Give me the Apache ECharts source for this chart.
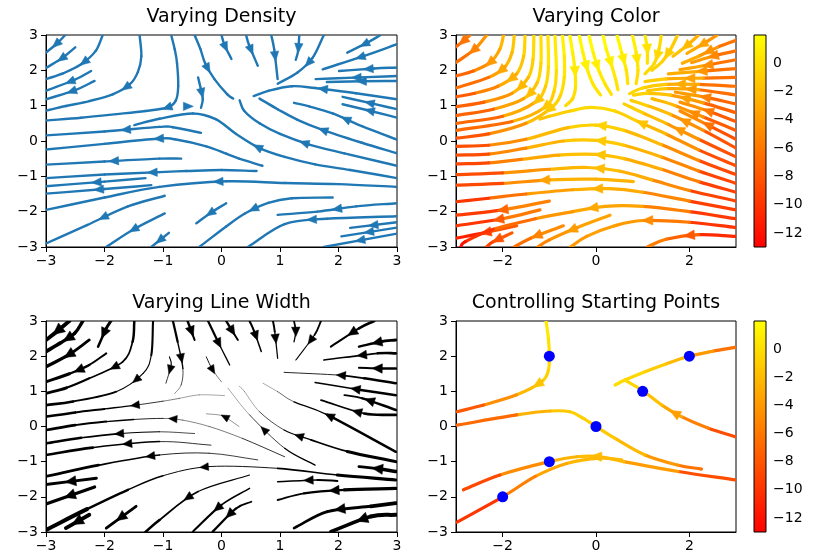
<!DOCTYPE html>
<html>
<head>
<meta charset="utf-8">
<script src="https://cdn.jsdelivr.net/npm/echarts@6/dist/echarts.min.js"></script>
<style>
  html, body { margin: 0; padding: 0; background: #fff; }
  #chart { width: 815px; height: 559px; }
</style>
</head>
<body>
<div id="chart"></div>
<script>
// Streamlines of the field, each listed upstream -> downstream.
// Panel "Varying Density": [x, y]
const densityLines = [
  [[-2.67,3.0],[-2.8,2.78],[-3.0,2.5]],
  [[-2.5,2.65],[-2.72,2.35],[-3.0,2.07]],
  [[-2.03,3.0],[-2.15,2.55],[-2.4,2.17],[-2.7,1.92],[-3.0,1.75]],
  [[-2.23,1.98],[-2.5,1.74],[-3.0,1.42]],
  [[-2.17,1.7],[-2.5,1.44],[-3.0,1.18]],
  [[-1.4,3.0],[-1.37,2.4],[-1.43,1.95],[-1.57,1.6],[-1.86,1.32],[-2.26,1.13],[-2.66,0.99],[-3.0,0.86]],
  [[-0.86,3.0],[-0.8,2.6],[-0.76,2.2],[-0.74,1.55],[-0.78,1.15],[-0.92,0.95],[-1.3,0.85],[-1.8,0.76],[-2.4,0.66],[-3.0,0.58]],
  [[3.0,-1.05],[2.2,-0.82],[1.6,-0.66],[1.08,-0.45],[0.65,-0.2],[0.25,0.2],[-0.1,0.62],[-0.49,0.78],[-1.06,0.63],[-1.49,0.45]],
  [[-0.35,0.23],[-0.83,0.39],[-1.06,0.4],[-2.0,0.27],[-3.0,0.16]],
  [[0.7,-0.7],[0.3,-0.5],[0.08,-0.36],[-0.26,-0.15],[-0.8,0.05],[-1.06,0.07],[-2.0,-0.08],[-3.0,-0.24]],
  [[-0.69,-0.5],[-1.06,-0.5],[-2.0,-0.58],[-3.0,-0.67]],
  [[0.6,-0.85],[0.0,-0.82],[-0.6,-0.85],[-1.06,-0.88],[-2.0,-0.95],[-3.0,-1.05]],
  [[-1.3,-1.05],[-2.0,-1.15],[-3.0,-1.28]],
  [[-1.2,-1.25],[-2.0,-1.36],[-3.0,-1.49]],
  [[3.0,-1.3],[2.0,-1.22],[1.08,-1.19],[0.08,-1.14],[-1.06,-1.3],[-2.0,-1.6],[-3.0,-1.95]],
  [[-0.97,-1.55],[-1.6,-1.85],[-2.3,-2.38],[-3.0,-2.9]],
  [[-0.97,-2.05],[-1.5,-2.5],[-1.97,-3.0]],
  [[-0.9,-2.6],[-1.2,-3.0]],
  [[-0.6,0.98],[-0.55,0.98]],
  [[-0.46,3.0],[-0.36,2.6],[-0.28,2.2],[-0.12,1.75],[0.1,1.32],[0.2,1.2]],
  [[0.0,3.0],[0.05,2.72],[0.17,2.32]],
  [[0.42,3.0],[0.47,2.72],[0.62,2.13]],
  [[0.85,3.0],[0.9,2.6],[0.96,1.75]],
  [[-0.4,1.8],[-0.35,1.45],[-0.32,1.18],[-0.35,0.94]],
  [[3.0,-0.7],[2.1,-0.35],[1.5,-0.1],[1.0,0.2],[0.65,0.5],[0.39,0.85],[0.31,1.15]],
  [[3.0,-0.35],[2.4,-0.05],[1.75,0.3],[1.3,0.6],[0.96,0.9],[0.65,1.2]],
  [[3.0,0.04],[2.4,0.42],[1.9,0.78],[1.5,0.98],[1.24,1.08]],
  [[3.0,0.66],[2.55,0.85],[2.07,1.04]],
  [[3.0,0.9],[2.55,1.07],[2.07,1.25]],
  [[3.0,1.18],[2.3,1.35],[1.6,1.5],[1.2,1.55],[0.8,1.42],[0.55,1.27]],
  [[3.0,1.7],[2.4,1.69],[1.8,1.67]],
  [[3.0,1.84],[2.38,1.8],[1.61,1.75]],
  [[3.0,2.08],[2.61,2.05],[2.01,1.98]],
  [[3.0,2.74],[2.44,2.41],[1.73,2.03]],
  [[2.72,3.0],[2.5,2.79],[2.15,2.5]],
  [[1.75,3.0],[1.56,2.36],[1.3,1.94],[0.96,1.62]],
  [[1.33,3.0],[1.31,2.55],[1.27,2.3]],
  [[1.9,-1.6],[1.2,-1.62],[0.8,-1.75],[0.4,-2.05],[0.08,-2.42],[-0.38,-3.0]],
  [[0.08,-1.76],[-0.2,-2.05],[-0.43,-2.33]],
  [[3.0,-1.76],[2.3,-1.85],[1.64,-2.0],[0.96,-2.09]],
  [[3.0,-2.13],[1.8,-2.2],[1.08,-2.35],[0.45,-3.0]],
  [[3.0,-2.3],[2.2,-2.46]],
  [[3.0,-2.45],[2.05,-2.7]],
  [[3.0,-2.62],[1.75,-3.0]]
];

// Panel "Varying Color": [x, y, u] where u is the colour value
const colorLines = [
  [[-2.7,3.0,-5.3],[-2.85,2.82,-6.3],[-3.0,2.67,-7.3]],
  [[-2.34,3.0,-3.5],[-2.6,2.6,-5.2],[-3.0,2.22,-7.8]],
  [[-1.98,3.0,-1.9],[-2.06,2.6,-2.6],[-2.27,2.22,-4],[-2.63,1.98,-5.9],[-3.0,1.84,-8.2]],
  [[-1.75,3.0,-1.1],[-1.8,2.5,-1.7],[-1.95,2.1,-2.7],[-2.3,1.8,-4.5],[-3.0,1.5,-8.5]],
  [[-1.52,3.0,-0.3],[-1.55,2.4,-1],[-1.7,1.9,-2],[-2.1,1.55,-3.9],[-2.6,1.35,-6.4],[-3.0,1.25,-8.8]],
  [[-1.33,3.0,0.2],[-1.35,2.3,-0.5],[-1.45,1.8,-1.3],[-1.8,1.35,-2.9],[-2.4,1.1,-5.7],[-3.0,0.97,-9]],
  [[-1.18,3.0,0.6],[-1.18,2.2,-0.2],[-1.26,1.65,-0.9],[-1.55,1.2,-2.2],[-2.2,0.9,-4.9],[-3.0,0.72,-9.3]],
  [[-1.03,3.0,0.9],[-1.02,2.1,0],[-1.08,1.55,-0.6],[-1.3,1.1,-1.6],[-2.0,0.7,-4.3],[-3.0,0.5,-9.5]],
  [[-0.88,3.0,1.2],[-0.85,2.0,0.3],[-0.9,1.4,-0.4],[-1.1,0.95,-1.3],[-1.8,0.55,-3.7],[-3.0,0.3,-9.7]],
  [[-0.72,3.0,1.5],[-0.68,2.4,0.9],[-0.68,1.8,0.3],[-0.76,1.3,-0.3],[-0.95,0.95,-0.9],[-1.5,0.5,-2.8],[-2.3,0.2,-6.1],[-3.0,0.08,-9.9]],
  [[-0.56,3.0,1.7],[-0.5,2.5,1.2],[-0.45,2.0,0.8],[-0.44,1.5,0.3],[-0.5,1.2,-0.1],[-0.65,1.0,-0.4]],
  [[-0.36,3.0,1.9],[-0.28,2.5,1.4],[-0.18,2.0,0.97],[-0.06,1.6,0.6],[0.1,1.3,0.3]],
  [[-0.15,3.0,2.0],[-0.06,2.5,1.5],[0.06,2.0,1.0],[0.2,1.6,0.56],[0.33,1.32,0.2]],
  [[0.15,3.0,2.0],[0.22,2.6,1.5],[0.32,2.2,1.1],[0.42,1.75,0.6],[0.47,1.45,0.2]],
  [[0.45,3.0,1.8],[0.55,2.5,1.2],[0.65,2.0,0.6],[0.68,1.62,0.15]],
  [[0.78,3.0,1.4],[0.86,2.5,0.8],[0.9,2.0,0.2],[0.86,1.62,-0.1]],
  [[1.05,3.0,0.9],[1.1,2.6,0.4],[1.1,2.2,-0.1]],
  [[1.4,3.0,0.0],[1.35,2.6,-0.2],[1.25,2.2,-0.4],[1.05,1.9,-0.2]],
  [[1.75,3.0,-1.1],[1.6,2.6,-0.9],[1.42,2.25,-0.8],[1.2,2.0,-0.4]],
  [[2.2,3.0,-2.8],[1.95,2.7,-2.1],[1.65,2.4,-1.3]],
  [[2.6,3.0,-4.8],[2.3,2.75,-3.5],[1.95,2.48,-2.3]],
  [[3.0,2.85,-7.2],[2.6,2.65,-5.1],[2.2,2.4,-3.4],[1.85,2.2,-2.2]],
  [[3.0,2.55,-7.5],[2.5,2.4,-4.9],[2.05,2.22,-3.0]],
  [[3.0,2.3,-7.7],[2.4,2.15,-4.6],[1.8,2.02,-2.2]],
  [[3.0,2.05,-8],[2.3,1.98,-4.3],[1.55,1.9,-1.5]],
  [[3.0,1.8,-8.2],[2.3,1.78,-4.5],[1.5,1.76,-1.5],[1.05,1.68,-0.4]],
  [[3.0,1.55,-8.5],[2.2,1.6,-4.2],[1.5,1.6,-1.7],[1.0,1.5,-0.5],[0.72,1.34,-0.2]],
  [[3.0,1.3,-8.7],[2.2,1.45,-4.4],[1.5,1.48,-1.8],[1.1,1.42,-0.8]],
  [[3.0,1.05,-9],[2.3,1.25,-5.0],[1.7,1.38,-2.5]],
  [[3.0,0.8,-9.2],[2.3,1.08,-5.2],[1.6,1.3,-2.3],[1.1,1.35,-0.9],[0.8,1.3,-0.3]],
  [[3.0,0.55,-9.5],[2.4,0.85,-5.9],[1.8,1.1,-3.1]],
  [[3.0,0.3,-9.7],[2.3,0.68,-5.6],[1.7,1.0,-2.9],[1.2,1.2,-1.2]],
  [[3.0,0.05,-10],[2.4,0.45,-6.3],[1.8,0.85,-3.4]],
  [[3.0,-0.2,-10.2],[2.3,0.3,-6],[1.6,0.75,-2.8],[1.1,1.0,-1.2],[0.75,1.15,-0.4]],
  [[3.0,-0.45,-10.5],[2.2,0.05,-5.8],[1.5,0.5,-2.7],[1.0,0.8,-1.2],[0.6,1.05,-0.3]],
  [[3.0,-0.7,-10.7],[2.2,-0.25,-6.1],[1.5,0.2,-3],[0.9,0.55,-1.3],[0.4,0.85,-0.3],[-0.1,0.95,-0.1],[-0.55,0.85,-0.5],[-1.0,0.7,-1.3],[-1.2,0.62,-1.8]],
  [[3.0,-0.95,-11],[2.2,-0.55,-6.4],[1.4,-0.1,-3.1],[0.6,0.3,-1.1],[0.0,0.45,-0.55],[-0.6,0.38,-1.0],[-1.5,0.05,-3.2],[-2.3,-0.12,-6.4],[-3.0,-0.15,-10.2]],
  [[3.0,-1.2,-11.2],[2.2,-0.85,-6.7],[1.4,-0.45,-3.4],[0.6,-0.12,-1.5],[0.0,0.02,-1],[-0.7,0.0,-1.5],[-1.5,-0.2,-3.4],[-2.3,-0.37,-6.6],[-3.0,-0.4,-10.4]],
  [[3.0,-1.45,-11.5],[2.2,-1.15,-7],[1.4,-0.8,-3.8],[0.6,-0.5,-1.9],[0.0,-0.38,-1.4],[-0.8,-0.4,-2],[-1.6,-0.52,-4.1],[-2.3,-0.62,-6.9],[-3.0,-0.65,-10.7]],
  [[3.0,-1.7,-11.7],[2.0,-1.4,-6.4],[1.2,-1.1,-3.5],[0.5,-0.85,-2.1],[-0.2,-0.75,-1.8],[-1.0,-0.8,-2.8],[-2.0,-0.9,-5.9],[-3.0,-0.95,-11]],
  [[0.8,-1.15,-2.8],[0.0,-1.08,-2.1],[-1.0,-1.1,-3.1],[-2.0,-1.2,-6.2],[-3.0,-1.25,-11.2]],
  [[3.0,-1.95,-12],[2.0,-1.7,-6.7],[1.0,-1.45,-3.5],[0.3,-1.35,-2.4],[-0.5,-1.38,-2.6],[-1.5,-1.5,-4.8],[-2.3,-1.62,-7.9],[-3.0,-1.72,-11.7]],
  [[-1.0,-1.7,-3.7],[-2.0,-1.95,-7],[-3.0,-2.1,-12]],
  [[-1.2,-1.95,-4.4],[-2.0,-2.2,-7.2],[-3.0,-2.4,-12.4]],
  [[-1.7,-2.4,-6.3],[-2.4,-2.6,-9.4],[-3.0,-2.75,-12.8]],
  [[3.0,-2.2,-12.2],[2.0,-2.0,-7],[1.0,-1.85,-3.9],[0.2,-1.85,-2.9],[-0.5,-2.0,-3.3],[-1.3,-2.2,-4.9],[-2.2,-2.5,-8.3],[-2.8,-2.85,-11.6],[-2.9,-3.0,-12.4]],
  [[3.0,-2.45,-12.5],[2.0,-2.3,-7.3],[1.0,-2.25,-4.3],[0.4,-2.4,-3.6],[-0.2,-2.7,-3.7],[-0.55,-3.0,-4.3]],
  [[3.0,-2.7,-12.7],[2.2,-2.65,-8.5],[1.5,-2.78,-6],[1.1,-3.0,-5.2]],
  [[0.3,-2.1,-3.2],[-0.4,-2.45,-3.6],[-1.0,-2.8,-4.8],[-1.25,-3.0,-5.6]],
  [[-0.7,-2.4,-3.9],[-1.4,-2.75,-5.7],[-1.75,-3.0,-7.1]],
  [[-1.8,-2.6,-6.8],[-2.2,-2.85,-8.7],[-2.35,-3.0,-9.5]]
];

// Panel "Varying Line Width": [x, y, width]
const widthLines = [
  [[-2.6,3.0,3.8],[-2.8,2.72,3.9],[-3.0,2.46,4.0]],
  [[-2.37,3.0,3.5],[-2.51,2.65,3.2],[-2.75,2.38,3.5],[-3.0,2.13,3.8]],
  [[-2.26,2.46,2.6],[-2.6,2.05,3.0],[-3.0,1.7,3.6]],
  [[-1.89,3.0,3.2],[-1.97,2.79,2.8],[-2.11,2.27,2.2]],
  [[-1.97,2.08,1.8],[-2.26,1.75,2.1],[-2.6,1.5,2.7],[-3.0,1.27,3.4]],
  [[-1.49,3.0,3.0],[-1.52,2.41,2.0],[-1.69,1.84,1.4],[-2.26,1.37,1.9],[-2.65,1.1,2.5],[-3.0,0.94,3.2]],
  [[-1.17,3.0,2.9],[-1.2,2.03,1.3],[-1.34,1.51,0.9],[-1.8,0.99,1.4],[-2.54,0.71,2.4],[-3.0,0.61,3.0]],
  [[0.05,0.88,0.2],[-0.38,0.9,0.3],[-0.72,0.8,0.45],[-1.0,0.72,0.6],[-1.5,0.6,1.0],[-2.0,0.5,1.6],[-2.5,0.4,2.3],[-3.0,0.28,2.9]],
  [[1.08,-0.86,1.0],[0.36,-0.34,0.6],[-0.21,0.0,0.45],[-0.66,0.18,0.5],[-1.0,0.23,0.6],[-1.5,0.2,1.1],[-1.97,0.14,1.6],[-2.5,0.04,2.3],[-3.0,-0.1,3.0]],
  [[-0.46,-0.2,0.6],[-1.06,-0.15,0.8],[-1.72,-0.2,1.3],[-2.4,-0.32,2.1],[-3.0,-0.48,3.1]],
  [[-0.18,-0.53,0.6],[-1.06,-0.43,1.0],[-2.2,-0.6,2.0],[-3.0,-0.81,3.2]],
  [[0.62,-0.95,0.8],[-0.21,-0.76,0.7],[-1.06,-0.81,1.0],[-2.1,-1.1,2.2],[-3.0,-1.42,3.5]],
  [[2.98,-1.52,3.9],[1.98,-1.38,2.2],[0.96,-1.19,1.1],[-0.21,-1.14,0.75],[-1.0,-1.4,1.2],[-1.6,-1.8,1.9],[-2.3,-2.35,3.0],[-3.0,-2.94,5.0]],
  [[-2.14,-1.47,2.3],[-3.0,-1.65,3.6]],
  [[-2.17,-1.72,2.5],[-3.0,-2.2,4.0]],
  [[-1.46,-2.27,2.2],[-1.97,-2.89,3.5]],
  [[-2.26,-2.51,3.3],[-2.66,-2.89,4.3]],
  [[-0.83,3.0,2.7],[-0.75,2.41,1.8],[-0.66,1.65,0.9],[-0.69,1.18,0.5],[-0.8,0.94,0.4]],
  [[-0.58,3.0,2.7],[-0.49,2.6,2.1],[-0.46,2.46,1.9]],
  [[-0.23,3.0,2.6],[-0.06,2.41,1.8],[0.14,1.75,0.8]],
  [[0.08,3.0,2.5],[0.19,2.7,2.1],[0.28,2.46,1.7]],
  [[0.48,3.0,2.3],[0.56,2.7,1.9],[0.68,2.13,1.1]],
  [[0.88,3.0,2.2],[0.91,2.7,1.8],[0.96,1.94,0.7]],
  [[-0.89,1.98,1.2],[-0.86,1.75,1.0],[-0.95,1.23,0.6]],
  [[-0.26,1.98,1.1],[-0.15,1.6,0.7],[0.0,1.27,0.3]],
  [[2.98,-1.0,3.6],[2.15,-0.71,2.3],[1.53,-0.38,1.4],[1.07,-0.1,0.9],[0.65,0.42,0.5],[0.39,1.0,0.2],[0.3,1.15,0.1]],
  [[2.98,-0.72,3.3],[1.81,0.33,1.6],[1.24,0.7,0.8],[0.96,0.99,0.4],[0.71,1.23,0.1]],
  [[1.6,-1.1,1.6],[1.08,-0.62,1.0],[0.48,0.33,0.5],[0.11,1.09,0.1]],
  [[2.98,0.47,3.0],[2.41,0.8,2.0],[2.1,0.89,1.6]],
  [[2.98,0.33,3.1],[2.44,0.37,2.2],[1.7,0.75,1.1]],
  [[0.3,0.0,0.45],[0.02,0.3,0.4],[-0.26,0.36,0.4]],
  [[0.48,-1.38,1.0],[-0.4,-1.85,1.2],[-1.06,-2.66,2.3],[-1.3,-3.0,3.0]],
  [[0.48,-1.76,1.4],[0.0,-2.23,1.6],[-0.49,-2.99,2.6]],
  [[0.51,-2.14,1.8],[0.25,-2.33,1.9],[-0.15,-2.99,2.7]],
  [[1.24,3.0,2.0],[1.27,2.7,1.5],[1.24,2.41,1.1]],
  [[1.7,3.0,2.2],[1.59,2.6,1.5],[1.27,1.89,0.6]],
  [[2.61,3.0,2.8],[2.35,2.79,2.5],[1.87,2.27,1.6]],
  [[2.98,2.46,3.0],[2.72,2.41,2.6],[2.35,2.27,2.1]],
  [[2.98,2.08,2.8],[2.67,2.08,2.3],[1.75,1.89,0.9]],
  [[2.98,1.65,2.9],[2.72,1.65,2.4],[2.35,1.67,1.9]],
  [[2.98,1.23,3.0],[2.44,1.37,2.1],[2.01,1.46,1.4],[1.07,1.54,0.3]],
  [[2.98,0.89,3.0],[2.38,1.04,2.0],[1.6,1.25,0.9]],
  [[2.98,-1.28,3.8],[2.72,-1.21,3.2],[2.35,-1.14,2.6]],
  [[1.98,-1.55,2.3],[1.64,-1.52,1.8],[0.96,-1.57,1.3]],
  [[2.98,-1.76,3.9],[2.1,-1.8,2.6],[1.41,-1.9,2.0],[0.96,-2.09,1.7]],
  [[2.98,-2.18,4.1],[2.55,-2.27,3.4],[1.81,-2.42,2.6],[1.24,-2.89,2.7]],
  [[2.98,-2.51,4.3],[2.55,-2.56,3.7],[1.87,-2.99,3.2]]
];

// Panel "Controlling Starting Points": [x, y, u]
const seedLines = [
  [[-1.07,3.0,0.9],[-1.02,2.5,0.5],[-1.0,2.0,0.0],[-1.02,1.6,-0.4],[-1.16,1.28,-1.1],[-1.7,0.9,-3.0],[-2.41,0.61,-6.2],[-2.98,0.42,-9.5]],
  [[2.26,-1.21,-7.3],[1.76,-1.1,-5.2],[1.05,-0.81,-2.9],[0.41,-0.34,-1.5],[0.0,0.0,-1.0],[-0.27,0.23,-0.8],[-0.56,0.42,-0.9],[-0.98,0.44,-1.5],[-1.7,0.33,-3.6],[-2.98,0.04,-9.9]],
  [[2.98,-1.52,-11.4],[1.76,-1.28,-5.4],[0.59,-1.0,-2.3],[0.09,-0.86,-1.9],[-0.41,-0.86,-2.0],[-1.0,-1.0,-3.0],[-2.06,-1.38,-6.6],[-2.84,-1.8,-10.9]],
  [[0.55,-0.95,-2.3],[0.09,-0.9,-1.9],[-0.63,-1.05,-2.4],[-1.3,-1.42,-4.1],[-2.0,-2.0,-7.0],[-2.98,-2.72,-12.6]],
  [[2.98,-0.29,-10.2],[2.41,-0.05,-6.9],[1.83,0.28,-4.1],[1.41,0.61,-2.4],[1.01,1.01,-1.0],[0.62,1.32,-0.1]],
  [[2.98,2.25,-7.6],[2.5,2.14,-5.1],[1.98,1.99,-2.9],[1.5,1.78,-1.5],[1.05,1.56,-0.6],[0.62,1.32,-0.1],[0.41,1.18,0.0]]
];
// arrows that stay visible on the seeded streamlines (others sit under a seed marker)
const seedArrowShown = [true, false, true, false, true, false];
const seedPoints = [[-2,-2],[-1,-1],[0,0],[1,1],[2,2],[-1,2]];

const fullTicks = [-3, -2, -1, 0, 1, 2, 3];
const sparseTicks = [-2, 0, 2];
const colorbarTicks = [0, -2, -4, -6, -8, -10, -12];
const colorRange = [-13, 2];

const titles = ['Varying Density', 'Varying Color', 'Varying Line Width', 'Controlling Starting Points'];

const FONT = 'DejaVu Sans';
const BLUE = '#1f77b4';

// autumn colormap: red at the low end, yellow at the high end
function autumn(u) {
  const t = Math.max(0, Math.min(1, (u - colorRange[0]) / (colorRange[1] - colorRange[0])));
  return 'rgb(255,' + Math.round(255 * t) + ',0)';
}

// Draws one streamline as smooth cubic pieces plus an arrow half way along it.
function streamRenderer(lines, look) {
  return function (params, api) {
    const idx = api.value(2);
    const line = lines[idx];
    const pts = line.map(p => api.coord([p[0], p[1]]));
    const n = pts.length;
    const tan = pts.map((p, i) => {
      const a = pts[Math.max(i - 1, 0)], b = pts[Math.min(i + 1, n - 1)];
      const k = (i === 0 || i === n - 1) ? 1 : 0.5;
      return [(b[0] - a[0]) * k, (b[1] - a[1]) * k];
    });
    const segs = [];
    for (let i = 0; i < n - 1; i++) {
      const p = pts[i], q = pts[i + 1];
      segs.push([p,
        [p[0] + tan[i][0] / 3, p[1] + tan[i][1] / 3],
        [q[0] - tan[i + 1][0] / 3, q[1] - tan[i + 1][1] / 3],
        q]);
    }
    const children = segs.map((s, i) => ({
      type: 'bezierCurve',
      silent: true,
      shape: { x1: s[0][0], y1: s[0][1], cpx1: s[1][0], cpy1: s[1][1],
               cpx2: s[2][0], cpy2: s[2][1], x2: s[3][0], y2: s[3][1] },
      style: { fill: null, stroke: look.stroke(line[i], line[i + 1]),
               lineWidth: look.width(line[i], line[i + 1]), lineCap: 'round' }
    }));
    if (look.arrowShown && !look.arrowShown(idx)) {
      return { type: 'group', children: children };
    }
    // arrow at half the arc length
    const len = [0];
    for (let i = 1; i < n; i++) {
      len.push(len[i - 1] + Math.hypot(line[i][0] - line[i - 1][0], line[i][1] - line[i - 1][1]));
    }
    const half = len[n - 1] / 2;
    let k = 0;
    while (k < n - 2 && len[k + 1] < half) k++;
    const t = (half - len[k]) / ((len[k + 1] - len[k]) || 1);
    const s = segs[k];
    const v = 1 - t;
    const pos = [0, 1].map(j => v * v * v * s[0][j] + 3 * v * v * t * s[1][j] + 3 * v * t * t * s[2][j] + t * t * t * s[3][j]);
    const d = [0, 1].map(j => 3 * v * v * (s[1][j] - s[0][j]) + 6 * v * t * (s[2][j] - s[1][j]) + 3 * t * t * (s[3][j] - s[2][j]));
    const dl = Math.hypot(d[0], d[1]) || 1;
    const ux = d[0] / dl, uy = d[1] / dl;
    const a = line[k], b = line[k + 1];
    const mid = a.map((val, j) => val + (b[j] - val) * t);
    const L = look.arrowLen(mid), H = look.arrowHalf(mid);
    const tip = [pos[0] + ux * L * 0.55, pos[1] + uy * L * 0.55];
    const base = [pos[0] - ux * L * 0.45, pos[1] - uy * L * 0.45];
    children.push({
      type: 'polygon',
      silent: true,
      shape: { points: [tip, [base[0] - uy * H, base[1] + ux * H], [base[0] + uy * H, base[1] - ux * H]] },
      style: { fill: look.arrowColor(mid), stroke: look.arrowColor(mid), lineWidth: 0.5 }
    });
    return { type: 'group', children: children };
  };
}

function colorbarRenderer(params, api) {
  const top = api.coord([0, colorRange[1]]);
  const bottom = api.coord([1, colorRange[0]]);
  return {
    type: 'rect',
    shape: { x: top[0], y: top[1], width: bottom[0] - top[0], height: bottom[1] - top[1] },
    style: {
      fill: new echarts.graphic.LinearGradient(0, 0, 0, 1, [
        { offset: 0, color: autumn(colorRange[1]) },
        { offset: 1, color: autumn(colorRange[0]) }
      ])
    }
  };
}

const minus = v => String(v).replace('-', '\u2212');

const panels = [
  { left: 46, top: 35, width: 351, height: 212, xt: fullTicks },
  { left: 456, top: 35, width: 280, height: 212, xt: sparseTicks },
  { left: 46, top: 321, width: 351, height: 211, xt: fullTicks },
  { left: 456, top: 321, width: 280, height: 211, xt: sparseTicks }
];
const bars = [
  { left: 754, top: 35, width: 12, height: 212 },
  { left: 754, top: 321, width: 12, height: 211 }
];

const tickLabel = { color: '#000', fontSize: 14, fontFamily: FONT };

const grid = [], xAxis = [], yAxis = [];
panels.forEach(p => {
  grid.push({ left: p.left, top: p.top, width: p.width, height: p.height,
              show: true, borderColor: '#000', borderWidth: 1, backgroundColor: 'transparent' });
  const gi = grid.length - 1;
  xAxis.push({
    type: 'value', gridIndex: gi, min: -3, max: 3,
    axisLine: { show: true, onZero: false, lineStyle: { color: '#000', width: 1 } },
    axisTick: { show: true, inside: false, length: 5, customValues: p.xt, lineStyle: { color: '#000' } },
    axisLabel: Object.assign({ margin: 7, customValues: p.xt, formatter: minus }, tickLabel),
    splitLine: { show: false }
  });
  yAxis.push({
    type: 'value', gridIndex: gi, min: -3, max: 3, interval: 1,
    axisLine: { show: true, onZero: false, lineStyle: { color: '#000', width: 1 } },
    axisTick: { show: true, inside: false, length: 5, lineStyle: { color: '#000' } },
    axisLabel: Object.assign({ margin: 8, formatter: minus }, tickLabel),
    splitLine: { show: false }
  });
});
bars.forEach(b => {
  grid.push({ left: b.left, top: b.top, width: b.width, height: b.height,
              show: true, borderColor: '#000', borderWidth: 1, z: 5 });
  const gi = grid.length - 1;
  xAxis.push({ type: 'value', gridIndex: gi, min: 0, max: 1, show: false });
  yAxis.push({
    type: 'value', gridIndex: gi, min: colorRange[0], max: colorRange[1], position: 'right',
    axisLine: { show: false },
    axisTick: { show: true, inside: false, length: 5, customValues: colorbarTicks, lineStyle: { color: '#000' } },
    axisLabel: Object.assign({ margin: 7, customValues: colorbarTicks, formatter: minus }, tickLabel),
    splitLine: { show: false }
  });
});

const itemsOf = lines => lines.map((l, i) => [l[0][0], l[0][1], i]);

const series = [
  {
    type: 'custom', xAxisIndex: 0, yAxisIndex: 0, clip: true,
    renderItem: streamRenderer(densityLines, {
      stroke: () => BLUE, width: () => 2.4,
      arrowLen: () => 10, arrowHalf: () => 4.2, arrowColor: () => BLUE
    }),
    data: itemsOf(densityLines)
  },
  {
    type: 'custom', xAxisIndex: 1, yAxisIndex: 1, clip: true,
    renderItem: streamRenderer(colorLines, {
      stroke: (a, b) => autumn((a[2] + b[2]) / 2), width: () => 3.2,
      arrowLen: () => 11, arrowHalf: () => 4.8, arrowColor: m => autumn(m[2])
    }),
    data: itemsOf(colorLines)
  },
  {
    type: 'custom', xAxisIndex: 2, yAxisIndex: 2, clip: true,
    renderItem: streamRenderer(widthLines, {
      stroke: () => '#000', width: (a, b) => Math.max(0.35, (a[2] + b[2]) / 2),
      arrowLen: m => 8 + m[2] * 0.9, arrowHalf: m => 3.4 + m[2] * 0.55, arrowColor: () => '#000'
    }),
    data: itemsOf(widthLines)
  },
  {
    type: 'custom', xAxisIndex: 3, yAxisIndex: 3, clip: true,
    renderItem: streamRenderer(seedLines, {
      stroke: (a, b) => autumn((a[2] + b[2]) / 2), width: () => 3.2,
      arrowLen: () => 11, arrowHalf: () => 4.8, arrowColor: m => autumn(m[2]),
      arrowShown: i => seedArrowShown[i]
    }),
    data: itemsOf(seedLines)
  },
  {
    type: 'scatter', xAxisIndex: 3, yAxisIndex: 3, symbol: 'circle', symbolSize: 11,
    itemStyle: { color: '#0000ff', opacity: 1 }, z: 10, silent: true,
    data: seedPoints
  },
  {
    type: 'custom', xAxisIndex: 4, yAxisIndex: 4, renderItem: colorbarRenderer, data: [[0, 0]], silent: true
  },
  {
    type: 'custom', xAxisIndex: 5, yAxisIndex: 5, renderItem: colorbarRenderer, data: [[0, 0]], silent: true
  }
];

const graphic = panels.map((p, i) => ({
  type: 'text',
  x: p.left + p.width / 2,
  y: p.top - 18,
  silent: true,
  style: { text: titles[i], fontSize: 19, fontFamily: FONT, fill: '#000', align: 'center', verticalAlign: 'middle' }
}));

const chart = echarts.init(document.getElementById('chart'), null, { renderer: 'canvas' });
chart.setOption({
  animation: false,
  backgroundColor: '#fff',
  grid: grid,
  xAxis: xAxis,
  yAxis: yAxis,
  series: series,
  graphic: graphic
});
</script>
</body>
</html>
